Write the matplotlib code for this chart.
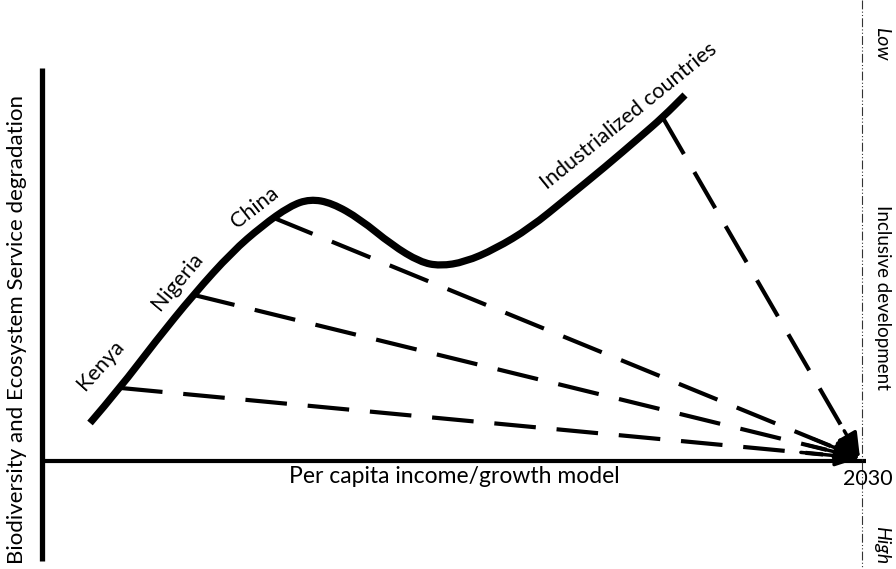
import matplotlib
matplotlib.use("Agg")
import matplotlib.pyplot as plt
from matplotlib.path import Path
from matplotlib.patches import PathPatch

plt.rcParams['font.family'] = ['Lato', 'DejaVu Sans']

# Curve (pixel coordinates, y down)
curve_x = [90, 120, 155, 194, 232, 262, 290, 310, 332, 360, 392, 420, 440,
           465, 495, 530, 567, 605, 640, 663, 685]
curve_y = [423, 388, 342, 294, 252, 226, 206, 199, 203, 219, 245, 262, 266,
           262, 249, 228, 198, 167, 137, 117, 95]

# Countries: label, point on curve, label position and angle
countries = ["Kenya", "Nigeria", "China", "Industrialized countries"]
start_x = [121, 194, 274, 663]
start_y = [388, 295, 218, 118]
label_x = [101, 177, 255, 629]
label_y = [365, 281, 208, 116]
label_rot = [48, 50, 38, 39]

end_x, end_y = 860, 458
axis_x, axis_y = 42, 461
line_2030 = 862

fig = plt.figure(figsize=(8.96, 5.69), dpi=100)
ax = fig.add_axes([0, 0, 1, 1])
ax.set_xlim(0, 896)
ax.set_ylim(569, 0)
ax.axis('off')

# axes
ax.plot([axis_x, axis_x], [68, 561], color='black', lw=3.8, solid_capstyle='butt')
ax.plot([axis_x, 866], [axis_y, axis_y], color='black', lw=3.0, solid_capstyle='butt')

# 2030 line
ax.plot([line_2030, line_2030], [0, 569], color='#333333', lw=0.8,
        linestyle=(0, (8, 2, 1, 2, 1, 2)))

# main curve, smoothed with quadratic segments through the read points
verts = [(curve_x[0], curve_y[0])]
codes = [Path.MOVETO]
for i in range(1, len(curve_x) - 1):
    verts += [(curve_x[i], curve_y[i]),
              ((curve_x[i] + curve_x[i + 1]) / 2, (curve_y[i] + curve_y[i + 1]) / 2)]
    codes += [Path.CURVE3, Path.CURVE3]
verts.append((curve_x[-1], curve_y[-1]))
codes.append(Path.LINETO)
ax.add_patch(PathPatch(Path(verts, codes), facecolor='none', edgecolor='black',
                       lw=5.2, capstyle='butt', joinstyle='round'))

# dashed arrows to 2030
for sx, sy in zip(start_x, start_y):
    dx = end_x - sx
    dy = end_y - sy
    ax.plot([sx, end_x - 0.05 * dx], [sy, end_y - 0.05 * dy], color='black', lw=3,
            linestyle=(0, (10, 5)), dash_capstyle='butt')
    ax.annotate('', xy=(end_x, end_y), xytext=(end_x - 0.08 * dx, end_y - 0.08 * dy),
                arrowprops=dict(arrowstyle='-|>,head_length=1.5,head_width=0.65',
                                color='black', lw=2.5, shrinkA=0, shrinkB=0))

for name, lx, ly, rot in zip(countries, label_x, label_y, label_rot):
    ax.text(lx, ly, name, rotation=rot, ha='center', va='center', fontsize=15.5,
            rotation_mode='anchor')

ax.text(454, 476, "Per capita income/growth model", ha='center', va='center', fontsize=16.5)
ax.text(868, 479, "2030", ha='center', va='center', fontsize=15.5)
ax.text(17, 330, "Biodiversity and Ecosystem Service degradation", rotation=90,
        ha='center', va='center', fontsize=16)
ax.text(882, 297, "Inclusive development", rotation=-90, ha='center', va='center', fontsize=13.5)
ax.text(882, 44, "Low", rotation=-90, ha='center', va='center', fontsize=14, style='italic')
ax.text(882, 545, "High", rotation=-90, ha='center', va='center', fontsize=14, style='italic')

fig.savefig('out.png', dpi=100)
